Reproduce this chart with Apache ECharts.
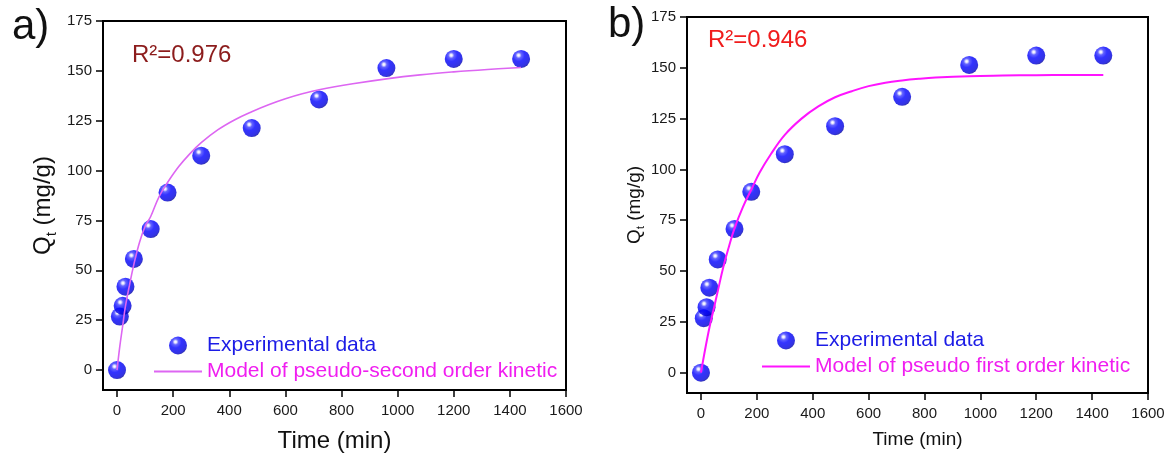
<!DOCTYPE html>
<html><head><meta charset="utf-8">
<script src="https://cdn.jsdelivr.net/npm/echarts@6/dist/echarts.min.js"></script>
<style>html,body{margin:0;padding:0;background:#fff}#c{width:1175px;height:458px}</style>
</head><body><div id="c"></div>
<script>
// ---- data ----
const timeMin = [0, 10, 20, 30, 60, 120, 180, 300, 480, 720, 960, 1200, 1440];
const qtExperimental = [0, 26.8, 32.2, 41.8, 55.7, 70.7, 89, 107.5, 121.3, 135.7, 151.4, 156, 156];

// pseudo-second order model curve (panel a)
const psoTime = [0, 10, 20, 30, 45, 60, 80, 100, 120, 150, 180, 220, 260, 300, 360, 420, 480, 540, 600, 660, 720, 840, 960, 1080, 1200, 1320, 1440];
const psoQt   = [0, 12, 22, 32, 43, 53, 64, 72, 77, 87, 94, 102, 108.5, 114, 120.5, 125.5, 129.5, 133, 136, 138.5, 140.5, 143.5, 146, 148, 149.5, 150.7, 151.7];

// pseudo-first order model curve (panel b)
const pfoTime = [0, 15, 30, 45, 60, 80, 100, 120, 150, 180, 210, 250, 300, 360, 420, 480, 540, 600, 660, 720, 780, 840, 960, 1080, 1200, 1320, 1440];
const pfoQt   = [0, 11.5, 22, 31, 40, 52, 62, 71, 81.5, 90, 98.5, 107.5, 117, 125, 131, 135.5, 138.5, 141, 142.7, 143.8, 144.6, 145.2, 145.9, 146.2, 146.4, 146.5, 146.5];

const xTicks = [0, 200, 400, 600, 800, 1000, 1200, 1400, 1600];
const yTicks = [0, 25, 50, 75, 100, 125, 150, 175];

const seriesNames = ['Experimental data', 'Model of pseudo-second order kinetic', 'Model of pseudo first order kinetic'];

// ---- chart ----
const FONT = '"Liberation Sans", Arial, sans-serif';
const zip = (a, b) => a.map((v, i) => [v, b[i]]);
const plain = v => String(v);

const sphere = {
  type: 'radial', x: 0.36, y: 0.3, r: 0.75,
  colorStops: [
    { offset: 0, color: '#ffffff' },
    { offset: 0.08, color: '#e4e4ff' },
    { offset: 0.22, color: '#3c3cff' },
    { offset: 0.45, color: '#0000ff' },
    { offset: 0.85, color: '#0000dc' },
    { offset: 1, color: '#000090' }
  ]
};

function xAx(gi, nameSize, nameGap) {
  return {
    type: 'value', gridIndex: gi, min: -50, max: 1600,
    name: 'Time (min)', nameLocation: 'middle', nameGap: nameGap,
    nameTextStyle: { fontSize: nameSize, color: '#111', fontFamily: FONT },
    axisLine: { show: true, onZero: false, lineStyle: { color: '#000', width: 2 } },
    axisTick: { show: true, length: 7, customValues: xTicks, lineStyle: { color: '#000', width: 1.5 } },
    axisLabel: { customValues: xTicks, formatter: plain, fontSize: 15, color: '#1a1a1a', margin: 13, fontFamily: FONT },
    splitLine: { show: false }
  };
}
function yAx(gi, nameSize, nameGap) {
  return {
    type: 'value', gridIndex: gi, min: -10, max: 175,
    name: '{q|Q}{s|t}{q| (mg/g)}', nameLocation: 'middle', nameGap: nameGap, nameRotate: 90,
    nameTextStyle: {
      color: '#111', fontFamily: FONT,
      rich: {
        q: { fontSize: nameSize, lineHeight: nameSize * 1.3, fontFamily: FONT, color: '#111' },
        s: { fontSize: nameSize * 0.62, lineHeight: nameSize * 0.62, verticalAlign: 'bottom', fontFamily: FONT, color: '#111' }
      }
    },
    axisLine: { show: true, onZero: false, lineStyle: { color: '#000', width: 2 } },
    axisTick: { show: true, length: 7, customValues: yTicks, lineStyle: { color: '#000', width: 1.5 } },
    axisLabel: { customValues: yTicks, formatter: plain, fontSize: 15, color: '#1a1a1a', margin: 11, fontFamily: FONT },
    splitLine: { show: false }
  };
}

const option = {
  backgroundColor: '#fff',
  animation: false,
  grid: [
    { left: 103, top: 21, width: 463, height: 372, show: true, borderColor: '#000', borderWidth: 2, backgroundColor: 'transparent' },
    { left: 687, top: 17, width: 461, height: 376, show: true, borderColor: '#000', borderWidth: 2, backgroundColor: 'transparent' }
  ],
  xAxis: [xAx(0, 24, 39), xAx(1, 19, 37)],
  yAxis: [yAx(0, 24, 44), yAx(1, 19, 40)],
  legend: [
    {
      left: 153, top: 335, padding: 0, orient: 'vertical', itemWidth: 48, itemHeight: 18, itemGap: 5,
      textStyle: { fontSize: 21, fontFamily: FONT },
      data: [
        { name: seriesNames[0], textStyle: { color: '#1c1ce6' } },
        { name: seriesNames[1], itemStyle: { opacity: 0 }, textStyle: { color: '#f01ef0' } }
      ],
      selectedMode: false
    },
    {
      left: 761, top: 330, padding: 0, orient: 'vertical', itemWidth: 48, itemHeight: 18, itemGap: 5,
      textStyle: { fontSize: 21, fontFamily: FONT },
      data: [
        { name: seriesNames[0], textStyle: { color: '#1c1ce6' } },
        { name: seriesNames[2], itemStyle: { opacity: 0 }, textStyle: { color: '#f01ef0' } }
      ],
      selectedMode: false
    }
  ],
  graphic: [
    { type: 'text', left: 12, top: 6, style: { text: 'a)', fontSize: 42, fill: '#111', fontFamily: FONT } },
    { type: 'text', left: 608, top: 4, style: { text: 'b)', fontSize: 42, fill: '#111', fontFamily: FONT } },
    { type: 'text', left: 132, top: 43, style: { text: 'R²=0.976', fontSize: 24, fill: '#8c1c1c', fontFamily: FONT } },
    { type: 'text', left: 708, top: 28, style: { text: 'R²=0.946', fontSize: 24, fill: '#f01c1c', fontFamily: FONT } }
  ],
  series: [
    {
      name: seriesNames[0], type: 'scatter', xAxisIndex: 0, yAxisIndex: 0, z: 2,
      symbol: 'circle', symbolSize: 18, itemStyle: { color: sphere },
      data: zip(timeMin, qtExperimental)
    },
    {
      name: seriesNames[1], type: 'line', xAxisIndex: 0, yAxisIndex: 0, z: 3,
      smooth: 0.4, symbol: 'none', showSymbol: false,
      lineStyle: { color: '#dd66f2', width: 1.6 }, itemStyle: { color: '#dd66f2' },
      data: zip(psoTime, psoQt)
    },
    {
      name: seriesNames[0], type: 'scatter', xAxisIndex: 1, yAxisIndex: 1, z: 2,
      symbol: 'circle', symbolSize: 18, itemStyle: { color: sphere },
      data: zip(timeMin, qtExperimental)
    },
    {
      name: seriesNames[2], type: 'line', xAxisIndex: 1, yAxisIndex: 1, z: 3,
      smooth: 0.4, symbol: 'none', showSymbol: false,
      lineStyle: { color: '#ff14ff', width: 2 }, itemStyle: { color: '#ff14ff' },
      data: zip(pfoTime, pfoQt)
    }
  ]
};
const chart = echarts.init(document.getElementById('c'), null, { renderer: 'canvas' });
chart.setOption(option);
</script></body></html>
